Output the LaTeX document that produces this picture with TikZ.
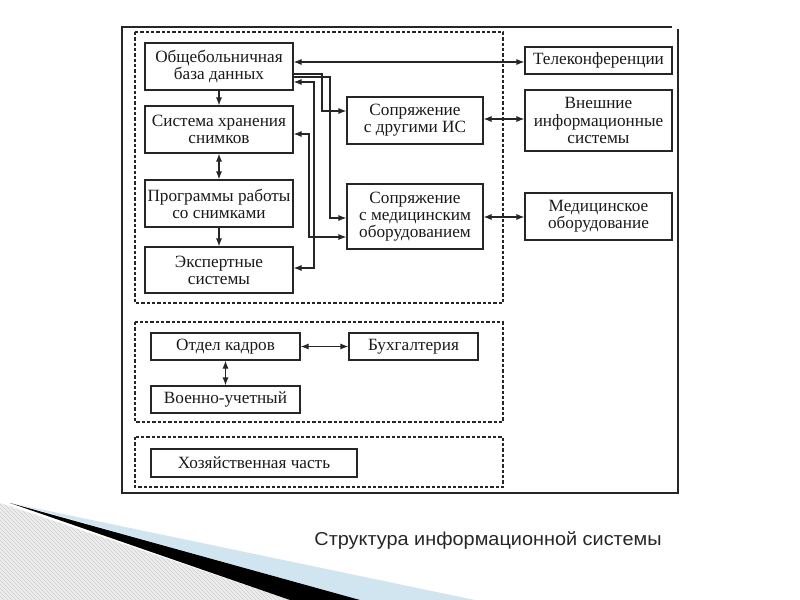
\documentclass[tikz,border=0pt]{standalone}
\usepackage{fontspec}
\setmainfont{Liberation Serif}
\newfontfamily\capfont[FakeStretch=1.065]{Liberation Sans}
\usetikzlibrary{arrows.meta,patterns}
\definecolor{decoblue}{RGB}{208,229,239}
\begin{document}
\begin{tikzpicture}[x=0.75pt,y=-0.75pt,
  box/.style={draw=black!85,line width=0.8pt,align=center,inner sep=1pt,
    font=\fontsize{12.9pt}{12.8pt}\selectfont,text=black!90},
  frame/.style={draw=black!85,line width=0.9pt,dash pattern=on 2.5pt off 1.5pt},
  arr/.style={draw=black!85,line width=0.8pt,-{Latex[length=6pt,width=4.5pt]}},
  dbl/.style={draw=black!85,line width=0.8pt,{Latex[length=6pt,width=4.5pt]}-{Latex[length=6pt,width=4.5pt]}}]
\useasboundingbox (0,0) rectangle (800,600);
% decoration bottom-left
\fill[black!7] (0,503) -- (290,600) -- (0,600) -- cycle;
\fill[pattern=north west lines,pattern color=black!18] (0,503) -- (290,600) -- (0,600) -- cycle;
\fill[decoblue] (20,505) -- (475,600) -- (360,600) -- cycle;
\fill[black] (10,503) -- (360,600) -- (290,600) -- cycle;
% outer frame
\draw[black!85,line width=1pt] (672,27) -- (122,27) -- (122,493) -- (678,493) -- (678,29);
% dotted frames
\draw[frame] (135,32) rectangle (503,303);
\draw[frame] (135,322) rectangle (503,422);
\draw[frame] (135,437) rectangle (503,487);
% boxes
\node[box,minimum width=111pt,minimum height=35.25pt] (db) at (219,66.5) {Общебольничная\\база данных};
\node[box,minimum width=111pt,minimum height=35.25pt] (store) at (219,129.5) {Система хранения\\снимков};
\node[box,minimum width=111pt,minimum height=35.25pt] (prog) at (219,203.5) {Программы работы\\со снимками};
\node[box,minimum width=111pt,minimum height=34.5pt] (expert) at (219,270) {Экспертные\\системы};
\node[box,minimum width=102pt,minimum height=35.25pt] (conIS) at (415,120.5) {Сопряжение\\с другими ИС};
\node[box,minimum width=102pt,minimum height=48.75pt] (conMed) at (415,216.5) {Сопряжение\\с медицинским\\оборудованием};
\node[box,minimum width=110.25pt,minimum height=20.25pt] (tele) at (598.5,60.5) {Телеконференции};
\node[box,minimum width=110.25pt,minimum height=45.75pt] (extIS) at (598.5,120.5) {Внешние\\информационные\\системы};
\node[box,minimum width=110.25pt,minimum height=35.25pt] (medEq) at (598.5,216.5) {Медицинское\\оборудование};
\node[box,minimum width=111.75pt,minimum height=20.25pt] (hr) at (225.5,346.5) {Отдел кадров};
\node[box,minimum width=96.75pt,minimum height=20.25pt] (acc) at (413.5,346.5) {Бухгалтерия};
\node[box,minimum width=111.75pt,minimum height=20.25pt] (mil) at (225.5,399.5) {Военно-учетный};
\node[box,minimum width=154.5pt,minimum height=21pt] (hoz) at (254,463) {Хозяйственная часть};
% connectors
\draw[dbl] (db.east |- 0,62) -- (tele.west |- 0,62);
\draw[arr] (db.east |- 0,74) -| (322,111) -- (conIS.west |- 0,111);
\draw[arr] (db.east |- 0,77) -| (330,218) -- (conMed.west |- 0,218);
\draw[dbl] (db.east |- 0,82) -| (314,268) -- (expert.east |- 0,268);
\draw[dbl] (store.east |- 0,134) -| (309,237) -- (conMed.west |- 0,237);
\draw[arr] (db.south) -- (store.north);
\draw[dbl] (store.south) -- (prog.north);
\draw[arr] (prog.south) -- (expert.north);
\draw[dbl] (conIS.east |- 0,119) -- (extIS.west |- 0,119);
\draw[dbl] (conMed.east |- 0,217) -- (medEq.west |- 0,217);
\draw[dbl] (hr) -- (acc);
\draw[dbl] (hr.south) -- (mil.north);
% caption
\node[font=\capfont\fontsize{14pt}{16pt}\selectfont,text=black!85] (cap) at (488,541) {Структура информационной системы};
\end{tikzpicture}
\end{document}
